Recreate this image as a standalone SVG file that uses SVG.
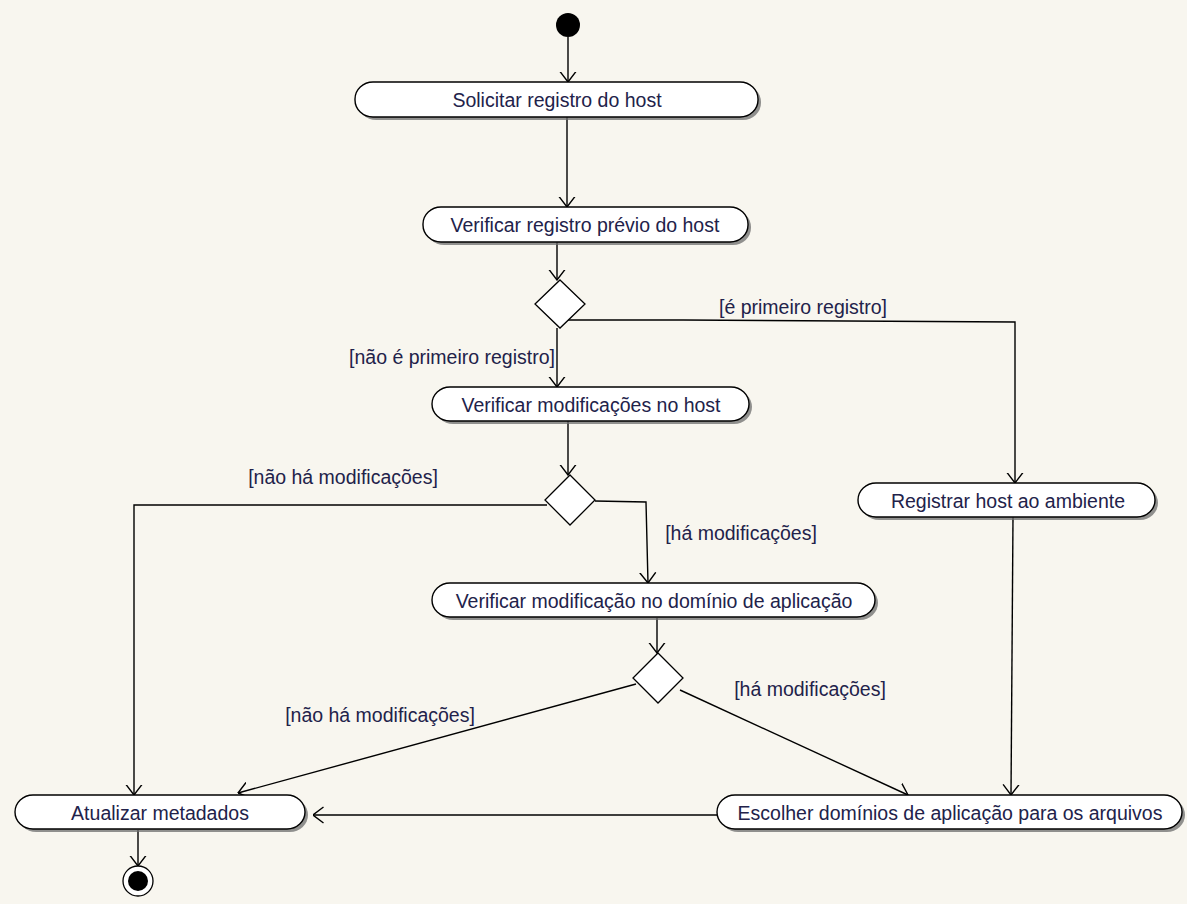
<svg xmlns="http://www.w3.org/2000/svg" width="1187" height="904" viewBox="0 0 1187 904">
<defs>
<style>
.node rect.sh{fill:#6e6e6e;opacity:0.75}
.node rect.bd{fill:#ffffff;stroke:#000;stroke-width:1.4}
.txt{font-family:"Liberation Sans",Arial,sans-serif;font-size:19.5px;fill:#22224a;text-anchor:middle}
.lbl{font-family:"Liberation Sans",Arial,sans-serif;font-size:19.5px;fill:#22224a;text-anchor:middle}
.dec{fill:#fff;stroke:#000;stroke-width:1.3}
#edges path{fill:none;stroke:#000;stroke-width:1.4;marker-end:url(#arr)}
</style>
<marker id="arr" viewBox="0 0 11 18" refX="10.5" refY="9" markerWidth="11" markerHeight="18" markerUnits="userSpaceOnUse" orient="auto">
<path d="M0,1 L10.5,9 L0,17" fill="none" stroke="#000" stroke-width="1.4"/>
</marker>
</defs>
<rect x="0" y="0" width="1187" height="904" fill="#f8f6ef"/>

<g id="edges">
<path d="M568,37 L568,82"/>
<path d="M567,117 L567,207"/>
<path d="M557,242 L557,280"/>
<path d="M568,320 L683,320 L1015,322 L1015,483"/>
<path d="M557,328 L557,387"/>
<path d="M568,421 L568,475"/>
<path d="M547,505 L134,505 L134,795"/>
<path d="M595,501 L646,502 L648,583"/>
<path d="M657,618 L657,653"/>
<path d="M680,690 L908,795"/>
<path d="M636,684 L238,793"/>
<path d="M1013,517 L1011,795"/>
<path d="M717,815 L313,815"/>
<path d="M138,830 L138,866"/>
</g>

<g id="labels">
<text class="lbl" x="803" y="314">[é primeiro registro]</text>
<text class="lbl" x="452" y="364">[não é primeiro registro]</text>
<text class="lbl" x="343" y="484">[não há modificações]</text>
<text class="lbl" x="741" y="540">[há modificações]</text>
<text class="lbl" x="810" y="696">[há modificações]</text>
<text class="lbl" x="380" y="722">[não há modificações]</text>
</g>

<g id="start"><circle cx="568" cy="25" r="12" fill="#000"/></g>

<g id="n1" class="node">
<rect class="sh" x="358" y="85" width="403" height="35" rx="18" ry="17"/>
<rect class="bd" x="355" y="82" width="403" height="35" rx="18" ry="17"/>
<text class="txt" x="557" y="106.5">Solicitar registro do host</text>
</g>

<g id="n2" class="node">
<rect class="sh" x="426" y="210" width="325" height="35" rx="18" ry="17"/>
<rect class="bd" x="423" y="207" width="325" height="35" rx="18" ry="17"/>
<text class="txt" x="585" y="231.5">Verificar registro prévio do host</text>
</g>

<g id="d1"><polygon class="dec" points="560,280 585,304 560,328 535,304"/></g>

<g id="n3" class="node">
<rect class="sh" x="435" y="390" width="317" height="34" rx="18" ry="17"/>
<rect class="bd" x="432" y="387" width="317" height="34" rx="18" ry="17"/>
<text class="txt" x="591" y="411.5">Verificar modificações no host</text>
</g>

<g id="d2"><polygon class="dec" points="570,475 595,500 570,525 545,500"/></g>

<g id="n5" class="node">
<rect class="sh" x="861" y="486" width="297" height="34" rx="18" ry="17"/>
<rect class="bd" x="858" y="483" width="297" height="34" rx="18" ry="17"/>
<text class="txt" x="1008" y="507.5">Registrar host ao ambiente</text>
</g>

<g id="n4" class="node">
<rect class="sh" x="435" y="586" width="443" height="34" rx="18" ry="17"/>
<rect class="bd" x="432" y="583" width="443" height="34" rx="18" ry="17"/>
<text class="txt" x="654" y="607.5">Verificar modificação no domínio de aplicação</text>
</g>

<g id="d3"><polygon class="dec" points="658,653 683,678 658,703 633,678"/></g>

<g id="n6" class="node">
<rect class="sh" x="720" y="798" width="465" height="34" rx="18" ry="17"/>
<rect class="bd" x="717" y="795" width="465" height="34" rx="18" ry="17"/>
<text class="txt" x="950" y="819.5">Escolher domínios de aplicação para os arquivos</text>
</g>

<g id="n7" class="node">
<rect class="sh" x="18" y="798" width="290" height="34" rx="18" ry="17"/>
<rect class="bd" x="15" y="795" width="290" height="34" rx="18" ry="17"/>
<text class="txt" x="160" y="819.5">Atualizar metadados</text>
</g>

<g id="end">
<circle cx="138" cy="881" r="15" fill="#fff" stroke="#000" stroke-width="1.3"/>
<circle cx="138" cy="881" r="10" fill="#000"/>
</g>
</svg>
